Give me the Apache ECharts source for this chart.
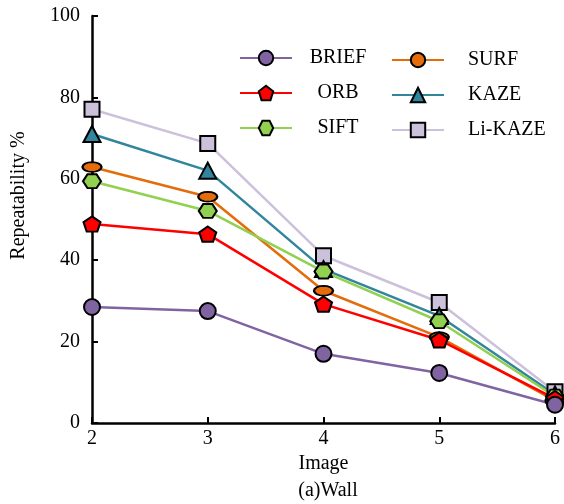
<!DOCTYPE html>
<html>
<head>
<meta charset="utf-8">
<style>
  html, body { margin: 0; padding: 0; background: #fff; }
  #main { width: 564px; height: 504px; }
</style>
<script src="https://cdn.jsdelivr.net/npm/echarts@6/dist/echarts.min.js"></script>
</head>
<body>
<div id="main"></div>
<script>
// x positions (Image index)
var images = [2, 3, 4, 5, 6]
// repeatability %
var brief = [28.5, 27.5, 17.0, 12.3, 4.5]
var orb = [48.9, 46.4, 29.2, 20.4, 6.0]
var surf = [62.9, 55.6, 32.5, 21.1, 5.5]
var kaze = [71.0, 62.0, 37.8, 26.3, 7.0]
var sift = [59.4, 52.1, 37.2, 25.0, 6.5]
var likaze = [77.1, 68.7, 41.1, 29.6, 7.7]

var font = 'Liberation Serif'
var pentagon = 'path://M0,-10 L9.5,-3.1 L5.9,8.1 L-5.9,8.1 L-9.5,-3.1 Z'
var hexagon = 'path://M-10,0 L-5,-8.66 L5,-8.66 L10,0 L5,8.66 L-5,8.66 Z'
var ellipse = 'path://M10,0 L9.24,2.68 L7.07,4.95 L3.83,6.47 L0,7 L-3.83,6.47 L-7.07,4.95 L-9.24,2.68 ' +
  'L-10,0 L-9.24,-2.68 L-7.07,-4.95 L-3.83,-6.47 L0,-7 L3.83,-6.47 L7.07,-4.95 L9.24,-2.68 Z'

function pairs(vals) {
  return images.map(function (x, i) { return [x, vals[i]] })
}

function line(name, vals, color, fill, symbol, size) {
  return {
    name: name,
    type: 'line',
    data: pairs(vals),
    symbol: symbol,
    symbolSize: size,
    symbolKeepAspect: true,
    showSymbol: true,
    clip: false,
    lineStyle: { color: color, width: 2.5 },
    itemStyle: { color: fill, borderColor: '#000', borderWidth: 2 },
    emphasis: { disabled: true }
  }
}

var legendBase = {
  orient: 'vertical',
  itemWidth: 52,
  itemHeight: 18,
  itemGap: 15,
  icon: 'inherit',
  textStyle: { fontFamily: font, fontSize: 20, color: '#000' },
  selectedMode: false
}

var myChart = echarts.init(document.getElementById('main'))
myChart.setOption({
  animation: false,
  title: {
    text: '(a)Wall',
    left: 323,
    textAlign: 'center',
    top: 476,
    textStyle: { fontFamily: font, fontSize: 20, fontWeight: 'normal', color: '#000' }
  },
  legend: [
    Object.assign({}, legendBase, {
      left: 234, top: 43,
      data: ['BRIEF', 'ORB', 'SIFT'],
      formatter: '{c|{name}}',
      textStyle: {
        fontFamily: font, fontSize: 20, color: '#000',
        rich: { c: { width: 82, align: 'center', fontFamily: font, fontSize: 20, color: '#000' } }
      }
    }),
    Object.assign({}, legendBase, {
      left: 386, top: 45,
      data: ['SURF', 'KAZE', 'Li-KAZE'],
      textStyle: { fontFamily: font, fontSize: 20, color: '#000', padding: [6, 0, 0, 19] }
    })
  ],
  grid: { left: 92, right: 9, top: 16, bottom: 81 },
  xAxis: {
    type: 'value',
    min: 2,
    max: 6,
    interval: 1,
    name: 'Image',
    nameLocation: 'middle',
    nameGap: 30,
    nameTextStyle: { fontFamily: font, fontSize: 20, color: '#000' },
    axisLine: { lineStyle: { color: '#000', width: 2.5 } },
    axisTick: { inside: true, length: 6, lineStyle: { color: '#000', width: 2 } },
    axisLabel: { fontFamily: font, fontSize: 20, color: '#000', margin: 6 },
    splitLine: { show: false }
  },
  yAxis: {
    type: 'value',
    min: 0,
    max: 100,
    interval: 20,
    name: 'Repeatability %',
    nameLocation: 'middle',
    nameGap: 63,
    nameTextStyle: { fontFamily: font, fontSize: 20, color: '#000', padding: [0, 0, 0, 48] },
    axisLine: { lineStyle: { color: '#000', width: 2.5 } },
    axisTick: { inside: true, length: 6, lineStyle: { color: '#000', width: 2 } },
    axisLabel: { fontFamily: font, fontSize: 20, color: '#000', margin: 12 },
    splitLine: { show: false }
  },
  series: [
    line('Li-KAZE', likaze, '#CCC1DA', '#CCC1DA', 'rect', [15, 15]),
    line('KAZE', kaze, '#31859C', '#31859C', 'triangle', [17, 16]),
    line('SURF', surf, '#E46C0A', '#E46C0A', ellipse, [19, 14]),
    line('SIFT', sift, '#92D050', '#92D050', hexagon, [18, 16]),
    line('ORB', orb, '#FF0000', '#FF0000', pentagon, [17, 16]),
    line('BRIEF', brief, '#8064A2', '#8064A2', 'circle', [16, 16])
  ]
})
</script>
</body>
</html>
